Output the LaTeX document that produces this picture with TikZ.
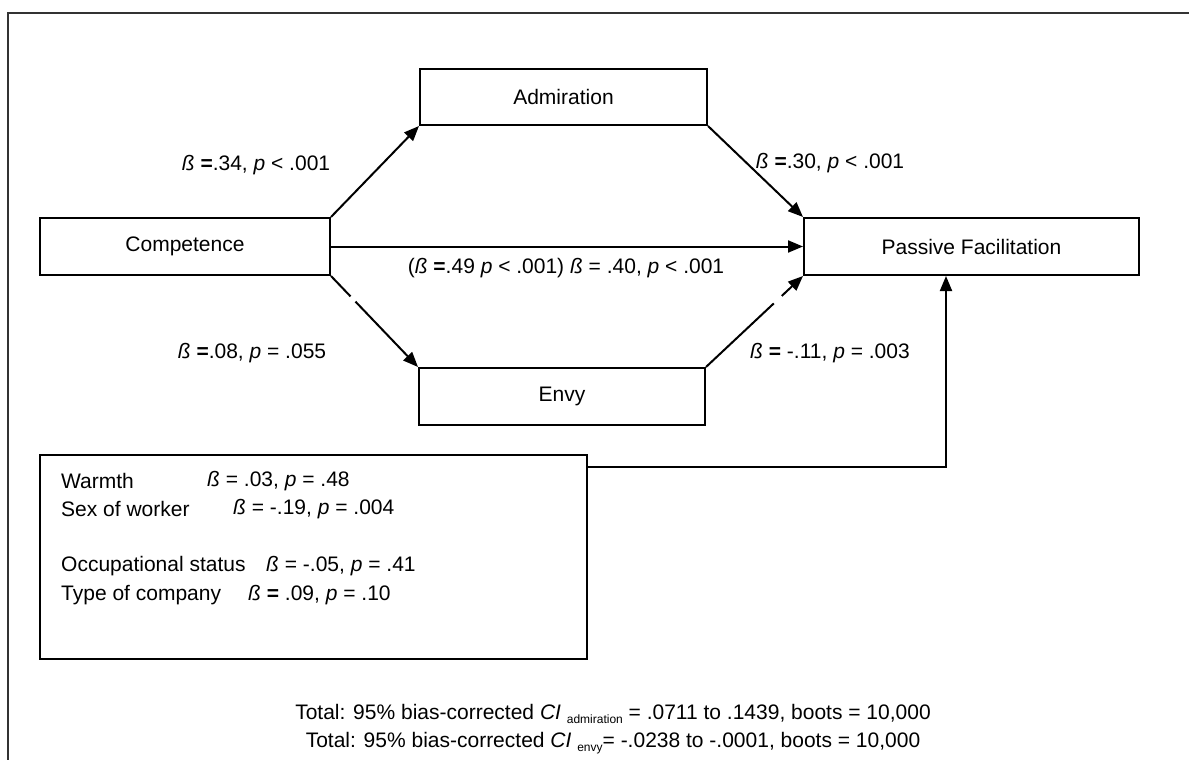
\documentclass[tikz,border=0pt]{standalone}
\usepackage{fontspec}
\setmainfont{Liberation Sans}
\usetikzlibrary{arrows.meta,calc}
\newcommand\betax{\textit{ß}}
\newcommand\subx[1]{{\fontsize{12bp}{12bp}\selectfont\raisebox{-4bp}{#1}}}
\begin{document}
\begin{tikzpicture}[x=1bp,y=-1bp,
  every node/.style={font=\fontsize{21bp}{25bp}\selectfont},
  box/.style={draw,line width=2bp,inner sep=0pt},
  lbl/.style={inner sep=0pt},
  conn/.style={line width=2bp,-{Triangle[length=15bp,width=12bp]}},
  gap/.style={white,line width=4bp}]
\useasboundingbox (0,0) rectangle (1189,760);
\draw[line width=1.5bp,black!80] (8,760) -- (8,13) -- (1189,13);

\node[box,minimum width=290bp,minimum height=57bp] (comp) at (185,246.5) {Competence};
\node[box,minimum width=287bp,minimum height=56bp] (adm) at (563.5,97) {Admiration};
\node[box,minimum width=286bp,minimum height=57bp] (envy) at (562,396.5) {Envy};
\node[box,minimum width=335bp,minimum height=57bp] (pf) at (971.5,246.5) {Passive Facilitation};
\node[box,minimum width=547bp,minimum height=204bp] (ctrl) at (313.5,557) {};

\draw[conn] (comp.north east) -- (adm.south west);
\draw[conn] (comp.east) -- (pf.west);
\draw[conn] (comp.south east) -- (envy.north west);
\draw[conn] (adm.south east) -- (pf.north west);
\draw[conn] (envy.north east) -- (pf.south west);
\draw[conn] ([yshift=-13bp]ctrl.north east) -| ([xshift=-25.5bp]pf.south);

\draw[gap] ($(comp.south east)!0.225!(envy.north west)$) -- ($(comp.south east)!0.28!(envy.north west)$);
\draw[gap] ($(envy.north east)!0.70!(pf.south west)$) -- ($(envy.north east)!0.78!(pf.south west)$);

\node[lbl] (l1) at (256,165) {\betax\ \textbf{=}.34, \textit{p} < .001};
\node[lbl] (l2) at (830,163) {\betax\ \textbf{=}.30, \textit{p} < .001};
\node[lbl] (l3) at (566,268) {(\betax\ \textbf{=}.49 \textit{p} < .001) \betax\ = .40, \textit{p} < .001};
\node[lbl] (l4) at (252,353) {\betax\ \textbf{=}.08, \textit{p} = .055};
\node[lbl] (l5) at (830,353) {\betax\ \textbf{=} -.11, \textit{p} = .003};

\node[lbl,anchor=west] (w1) at (61,481) {Warmth};
\node[lbl,anchor=west] (w2) at (207,481) {\betax\ = .03, \textit{p} = .48};
\node[lbl,anchor=west] (s1) at (61,509) {Sex of worker};
\node[lbl,anchor=west] (s2) at (233,509) {\betax\ = -.19, \textit{p} = .004};
\node[lbl,anchor=west] (o1) at (61,566) {Occupational status};
\node[lbl,anchor=west] (o2) at (266,566) {\betax\ = -.05, \textit{p} = .41};
\node[lbl,anchor=west] (t1) at (61,595) {Type of company};
\node[lbl,anchor=west] (t2) at (248,595) {\betax\ \textbf{=} .09, \textit{p} = .10};

\node[lbl] (tot1) at (613,714) {Total: 95\% bias-corrected \textit{CI} \subx{admiration} = .0711 to .1439, boots = 10,000};
\node[lbl] (tot2) at (613,743) {Total: 95\% bias-corrected \textit{CI} \subx{envy}= -.0238 to -.0001, boots = 10,000};
\end{tikzpicture}
\end{document}
